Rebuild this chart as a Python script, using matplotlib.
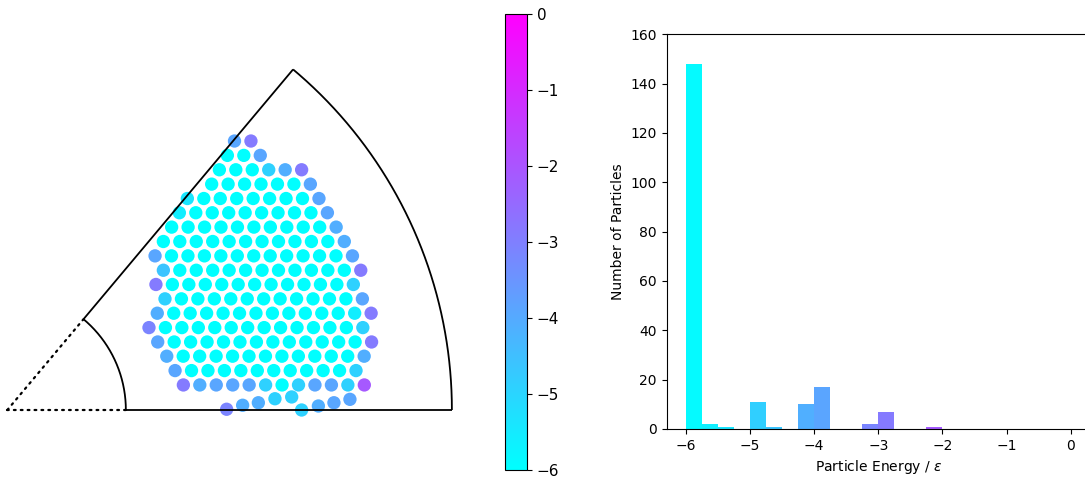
import numpy as np
import matplotlib
matplotlib.use("Agg")
import matplotlib.pyplot as plt
from matplotlib.colors import Normalize
from matplotlib.cm import ScalarMappable

# ---- Particle configuration (lengths in sigma, energies in epsilon) ----
# Crystal rows from top to bottom: y level of each row, x of each particle
ROW_Y = [18.15, 17.18, 16.21, 15.24, 14.27, 13.31, 12.34, 11.37, 10.40,
         9.43, 8.47, 7.50, 6.53, 5.56, 4.59, 3.63, 2.66, 1.69]

ROW_X = [
    [15.33, 16.44],
    [14.85, 15.96, 17.07],
    [14.31, 15.42, 16.53, 17.64, 18.75, 19.86],
    [13.79, 14.90, 16.01, 17.12, 18.23, 19.34, 20.45],
    [12.15, 13.26, 14.37, 15.48, 16.59, 17.70, 18.81, 19.92, 21.03],
    [11.61, 12.72, 13.83, 14.94, 16.05, 17.16, 18.27, 19.38, 20.49, 21.60],
    [11.09, 12.20, 13.31, 14.42, 15.53, 16.64, 17.75, 18.86, 19.97, 21.08, 22.19],
    [10.53, 11.64, 12.75, 13.86, 14.97, 16.08, 17.19, 18.30, 19.41, 20.52, 21.63, 22.74],
    [9.97, 11.08, 12.19, 13.30, 14.41, 15.52, 16.63, 17.74, 18.85, 19.96, 21.07, 22.18, 23.29],
    [10.53, 11.64, 12.75, 13.86, 14.97, 16.08, 17.19, 18.30, 19.41, 20.52, 21.63, 22.74, 23.85],
    [10.03, 11.14, 12.25, 13.36, 14.47, 15.58, 16.69, 17.80, 18.91, 20.02, 21.13, 22.24, 23.35],
    [10.64, 11.75, 12.86, 13.97, 15.08, 16.19, 17.30, 18.41, 19.52, 20.63, 21.74, 22.85, 23.96],
    [10.12, 11.23, 12.34, 13.45, 14.56, 15.67, 16.78, 17.89, 19.00, 20.11, 21.22, 22.33, 23.44, 24.55],
    [9.56, 10.67, 11.78, 12.89, 14.00, 15.11, 16.22, 17.33, 18.44, 19.55, 20.66, 21.77, 22.88, 23.99],
    [10.15, 11.26, 12.37, 13.48, 14.59, 15.70, 16.81, 17.92, 19.03, 20.14, 21.25, 22.36, 23.47, 24.58],
    [10.76, 11.87, 12.98, 14.09, 15.20, 16.31, 17.42, 18.53, 19.64, 20.75, 21.86, 22.97, 24.08],
    [11.32, 12.43, 13.54, 14.65, 15.76, 16.87, 17.98, 19.09, 20.20, 21.31, 22.42, 23.53],
    [11.88, 12.99, 14.10, 15.21, 16.32, 17.43, 18.54, 19.65, 20.76, 21.87, 22.98, 24.09],
]

ROW_E = [
    [-3.9, -2.9],
    [-6.0, -6.0, -3.9],
    [-6.0, -6.0, -6.0, -4.9, -4.1, -2.9],
    [-6.0, -6.0, -6.0, -6.0, -6.0, -6.0, -3.9],
    [-5.4, -6.0, -6.0, -6.0, -6.0, -6.0, -6.0, -6.0, -3.9],
    [-5.6, -6.0, -6.0, -6.0, -6.0, -6.0, -6.0, -6.0, -6.0, -3.9],
    [-6.0, -6.0, -6.0, -6.0, -6.0, -6.0, -6.0, -6.0, -6.0, -6.0, -4.1],
    [-6.0, -6.0, -6.0, -6.0, -6.0, -6.0, -6.0, -6.0, -6.0, -6.0, -6.0, -4.1],
    [-3.9, -6.0, -6.0, -6.0, -6.0, -6.0, -6.0, -6.0, -6.0, -6.0, -6.0, -6.0, -3.9],
    [-4.6, -6.0, -6.0, -6.0, -6.0, -6.0, -6.0, -6.0, -6.0, -6.0, -6.0, -6.0, -2.9],
    [-2.9, -6.0, -6.0, -6.0, -6.0, -6.0, -6.0, -6.0, -6.0, -6.0, -6.0, -6.0, -4.9],
    [-4.9, -6.0, -6.0, -6.0, -6.0, -6.0, -6.0, -6.0, -6.0, -6.0, -6.0, -6.0, -3.9],
    [-4.1, -6.0, -6.0, -6.0, -6.0, -6.0, -6.0, -6.0, -6.0, -6.0, -6.0, -6.0, -5.6, -2.9],
    [-3.1, -6.0, -6.0, -6.0, -6.0, -6.0, -6.0, -6.0, -6.0, -6.0, -6.0, -6.0, -6.0, -4.9],
    [-3.9, -6.0, -6.0, -6.0, -6.0, -6.0, -6.0, -6.0, -6.0, -6.0, -6.0, -6.0, -6.0, -2.9],
    [-4.1, -6.0, -6.0, -6.0, -6.0, -6.0, -6.0, -6.0, -6.0, -6.0, -6.0, -6.0, -4.1],
    [-3.9, -6.0, -6.0, -6.0, -6.0, -6.0, -6.0, -6.0, -6.0, -6.0, -6.0, -4.9],
    [-2.9, -4.1, -3.9, -3.9, -3.9, -4.9, -6.0, -4.9, -3.9, -3.9, -4.9, -2.1],
]

# Loose particles sitting on the lower wall
WALL_X = [14.80, 15.88, 16.94, 18.06, 19.19, 19.86, 20.99, 22.04, 23.12]
WALL_Y = [0.05, 0.32, 0.49, 0.76, 0.88, 0.00, 0.27, 0.49, 0.72]
WALL_E = [-3.1, -4.1, -4.1, -4.9, -4.9, -4.9, -4.1, -3.9, -3.9]

# Wedge geometry
R_INNER = 8.0
R_OUTER = 30.0
WEDGE_DEG = 50.0

# Histogram / colour scale
E_MIN, E_MAX = -6.0, 0.0
N_BINS = 24
HIST_XTICKS = [-6, -5, -4, -3, -2, -1, 0]
HIST_YTICKS = [0, 20, 40, 60, 80, 100, 120, 140, 160]
CBAR_TICKS = [-6, -5, -4, -3, -2, -1, 0]

# ---- assemble particle arrays ----
xs, ys, es = [], [], []
for y, row_x, row_e in zip(ROW_Y, ROW_X, ROW_E):
    xs.extend(row_x)
    ys.extend([y] * len(row_x))
    es.extend(row_e)
xs.extend(WALL_X)
ys.extend(WALL_Y)
es.extend(WALL_E)
xs, ys, es = np.array(xs), np.array(ys), np.array(es)

cmap = plt.get_cmap("cool")
norm = Normalize(vmin=E_MIN, vmax=E_MAX)

W, H = 1085, 478
fig = plt.figure(figsize=(W / 100, H / 100), dpi=100)

# ---- left: particles in the wedge ----
scale = 14.82  # pixels per sigma
ax_w, ax_top, ax_bot = 470, 50, 420
apex_px = (7.3, 410)
ax = fig.add_axes([0, (H - ax_bot) / H, ax_w / W, (ax_bot - ax_top) / H])
ax.set_xlim(-apex_px[0] / scale, (ax_w - apex_px[0]) / scale)
ax.set_ylim((apex_px[1] - ax_bot) / scale, (apex_px[1] - ax_top) / scale)
ax.axis("off")

th = np.deg2rad(WEDGE_DEG)
arc = np.linspace(0, th, 200)
lc = dict(color="black", lw=1.3, zorder=3, solid_capstyle="butt")
ax.plot(R_OUTER * np.cos(arc), R_OUTER * np.sin(arc), **lc)
ax.plot(R_INNER * np.cos(arc), R_INNER * np.sin(arc), **lc)
ax.plot([R_INNER, R_OUTER], [0, 0], **lc)
ax.plot([R_INNER * np.cos(th), R_OUTER * np.cos(th)],
        [R_INNER * np.sin(th), R_OUTER * np.sin(th)], **lc)
dc = dict(color="black", lw=1.6, ls=(0, (0.8, 2.3)), zorder=3,
          dash_capstyle="round")
ax.plot([0, R_INNER], [0, 0], **dc)
ax.plot([0, R_INNER * np.cos(th)], [0, R_INNER * np.sin(th)], **dc)

ax.scatter(xs, ys, c=es, cmap=cmap, norm=norm, s=92, edgecolors="none",
           zorder=2)

# ---- colour bar ----
cax = fig.add_axes([505 / W, 8 / H, 22 / W, 456 / H])
cb = fig.colorbar(ScalarMappable(norm=norm, cmap=cmap), cax=cax,
                  ticks=CBAR_TICKS)
cb.ax.tick_params(labelsize=11)

# ---- right: energy histogram ----
hx0, hx1, hy0, hy1 = 666.7, 1090.0, 34.3, 429.0
hax = fig.add_axes([hx0 / W, (H - hy1) / H, (hx1 - hx0) / W, (hy1 - hy0) / H])
bins = np.linspace(E_MIN, E_MAX, N_BINS + 1)
counts, edges, patches = hax.hist(es, bins=bins)
for patch, lo, hi in zip(patches, edges[:-1], edges[1:]):
    patch.set_facecolor(cmap(norm(0.5 * (lo + hi))))
    patch.set_edgecolor("none")
hax.set_xlim(-6.3, 0.3)
hax.set_ylim(0, 160)
hax.set_xticks(HIST_XTICKS)
hax.set_yticks(HIST_YTICKS)
hax.tick_params(labelsize=10)
hax.set_xlabel(r"Particle Energy / $\varepsilon$", fontsize=10)
hax.set_ylabel("Number of Particles", fontsize=10)

fig.savefig("out.png", dpi=100)
